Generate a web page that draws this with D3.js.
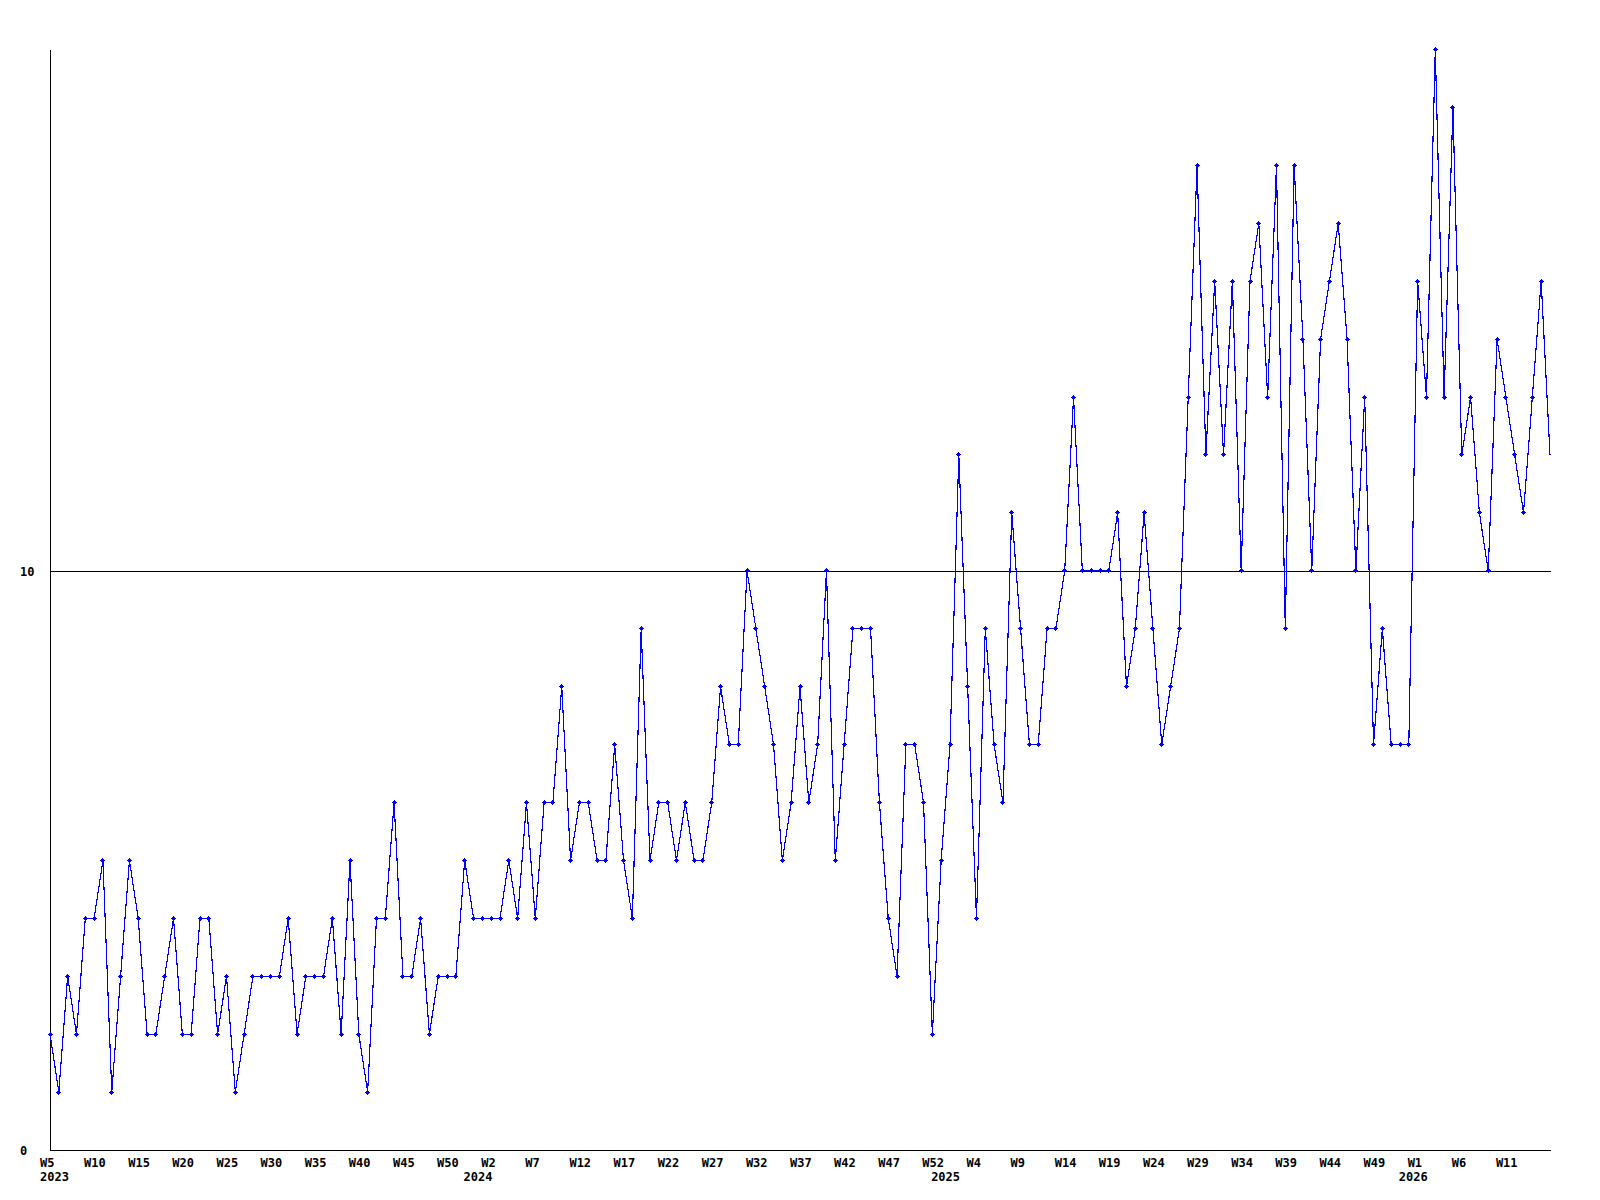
<!DOCTYPE html>
<html><head><meta charset="utf-8">
<script src="https://cdn.jsdelivr.net/npm/d3@7"></script>
<style>
html,body{margin:0;padding:0;background:#fff;}
svg{display:block;}
text{font-family:"DejaVu Sans Mono","Liberation Mono",monospace;font-weight:bold;font-size:12px;fill:#000;}
</style></head><body><svg id="chart" width="1600" height="1200"></svg>
<script>
// ---- data ----
const years = [2023, 2024, 2025, 2026];
const firstWeek = [5, 1, 1, 1];
const lastWeek = [53, 53, 53, 16];
const values2023 = [2,1,3,2,4,4,5,1,3,5,4,2,2,3,4,2,2,4,4,2,3,1,2,3,3,3,3,4,2,3,3,3,4,2,5,2,1,4,4,6,3,3,4,2,3,3,3,5,4];
const values2024 = [4,4,4,5,4,6,4,6,6,8,5,6,6,5,5,7,5,4,9,5,6,6,5,6,5,5,6,8,7,7,10,9,8,7,5,6,8,6,7,10,5,7,9,9,9,6,4,3,7,7,6,2,5];
const values2025 = [7,12,8,4,9,7,6,11,9,7,7,9,9,10,13,10,10,10,10,11,8,9,11,9,7,8,9,13,17,12,15,12,15,10,15,16,13,17,9,17,14,10,14,15,16,14,10,13,7,9,7,7,7];
const values2026 = [15,13,19,13,18,12,13,11,10,14,13,12,11,13,15,12];
const yTicks = [0, 10];
const yMax = 19;
const tickStep = 5;

// ---- build categories ----
const categories = [], catYear = [], catWeek = [];
years.forEach((yr, i) => {
  for (let w = firstWeek[i]; w <= lastWeek[i]; w++) {
    categories.push(yr + "-W" + w); catYear.push(yr); catWeek.push(w);
  }
});
const values = [].concat(values2023, values2024, values2025, values2026);
const data = categories.map((c, i) => ({cat: c, v: values[i], i}));

// ---- scales ----
const svg = d3.select("#chart");
const x = d3.scalePoint().domain(categories).range([50, 1550]);
const y = d3.scaleLinear().domain([0, yMax]).range([1150, 49.5]);

// gridline at 10
const gy = Math.round(y(10)) + 0.5;
svg.append("line").attr("x1", 50).attr("x2", 1551).attr("y1", gy).attr("y2", gy)
  .attr("stroke", "#000").attr("stroke-width", 1).attr("shape-rendering", "crispEdges");

// x axis (no label on the very last point)
const tickCats = categories.filter((d, i) => i % tickStep === 0 && i < categories.length - 1);
const xAxis = d3.axisBottom(x).tickValues(tickCats)
  .tickFormat(d => "W" + catWeek[categories.indexOf(d)])
  .tickSize(0).tickSizeOuter(0);
const gx = svg.append("g").attr("transform", "translate(0,1150)").call(xAxis);
gx.attr("font-size", null).attr("font-family", null);
gx.select(".domain").attr("stroke", "#000").attr("shape-rendering", "crispEdges");
gx.selectAll("text").attr("text-anchor", "start").attr("x", -10.5).attr("y", 17).attr("dy", null)
  .attr("fill", "#000");

// year labels
years.forEach((yr, i) => {
  const k = catYear.indexOf(yr);
  if (i === 0) {
    svg.append("text").attr("x", x(categories[k]) - 10).attr("y", 1181).attr("text-anchor", "start").text(yr);
  } else {
    const mx = (x(categories[k - 1]) + x(categories[k])) / 2;
    svg.append("text").attr("x", mx).attr("y", 1181).attr("text-anchor", "middle").text(yr);
  }
});

// y axis
const yAxis = d3.axisLeft(y).tickValues(yTicks).tickFormat(d3.format("d")).tickSize(0).tickSizeOuter(0);
const gyAxis = svg.append("g").attr("transform", "translate(50,0)").call(yAxis);
gyAxis.attr("font-size", null).attr("font-family", null);
gyAxis.select(".domain").attr("stroke", "#000").attr("shape-rendering", "crispEdges");
gyAxis.selectAll("text").attr("text-anchor", "start").attr("x", -30).attr("dy", "0.36em")
  .attr("fill", "#000");

// line
const line = d3.line().x(d => x(d.cat)).y(d => y(d.v));
svg.append("path").datum(data).attr("d", line)
  .attr("fill", "none").attr("stroke", "#0000ff").attr("stroke-width", 1.15)
  .attr("shape-rendering", "crispEdges");

// markers
svg.append("g").selectAll("path").data(data.slice(0, data.length - 1)).join("path")
  .attr("d", d => {
    const px = Math.floor(x(d.cat)), py = Math.floor(y(d.v));
    return `M${px-2},${py}h5v1h-5z M${px},${py-2}h1v5h-1z M${px-1},${py-1}h3v3h-3z`;
  })
  .attr("fill", "#0000ff").attr("shape-rendering", "crispEdges");
</script></body></html>
